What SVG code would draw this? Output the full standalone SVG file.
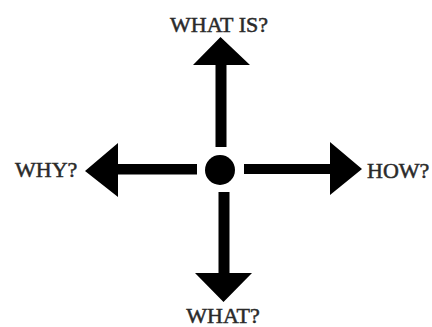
<svg xmlns="http://www.w3.org/2000/svg" width="432" height="327" viewBox="0 0 432 327">
<style>
.lbl{font-family:"Liberation Serif","Times New Roman",serif;font-size:22px;fill:#2a2a2a;stroke:#2a2a2a;stroke-width:0.5}
.arr{fill:#000}
</style>
<rect width="432" height="327" fill="#fff"/>
<g id="center"><circle cx="220" cy="170" r="15" fill="#000"/></g>
<g id="connectors">
<polygon class="arr" points="215.5,147 226.5,147 226.5,65 250,65 220.5,37 193,65 215.5,65"/>
<polygon class="arr" points="218.5,192 229.5,192 229.5,273 252,273 223.5,302 195,273 218.5,273"/>
<polygon class="arr" points="197,164 197,174.5 118,174.5 118,197 85,171 118,143 118,164"/>
<polygon class="arr" points="244,164 244,174 330,174 330,195 362,169 330,142 330,164"/>
</g>
<g id="whatis"><text class="lbl" x="219" y="32" text-anchor="middle">WHAT IS?</text></g>
<g id="why"><text class="lbl" x="15" y="177">WHY?</text></g>
<g id="how"><text class="lbl" x="367" y="178">HOW?</text></g>
<g id="what"><text class="lbl" x="223" y="323" text-anchor="middle">WHAT?</text></g>
</svg>
